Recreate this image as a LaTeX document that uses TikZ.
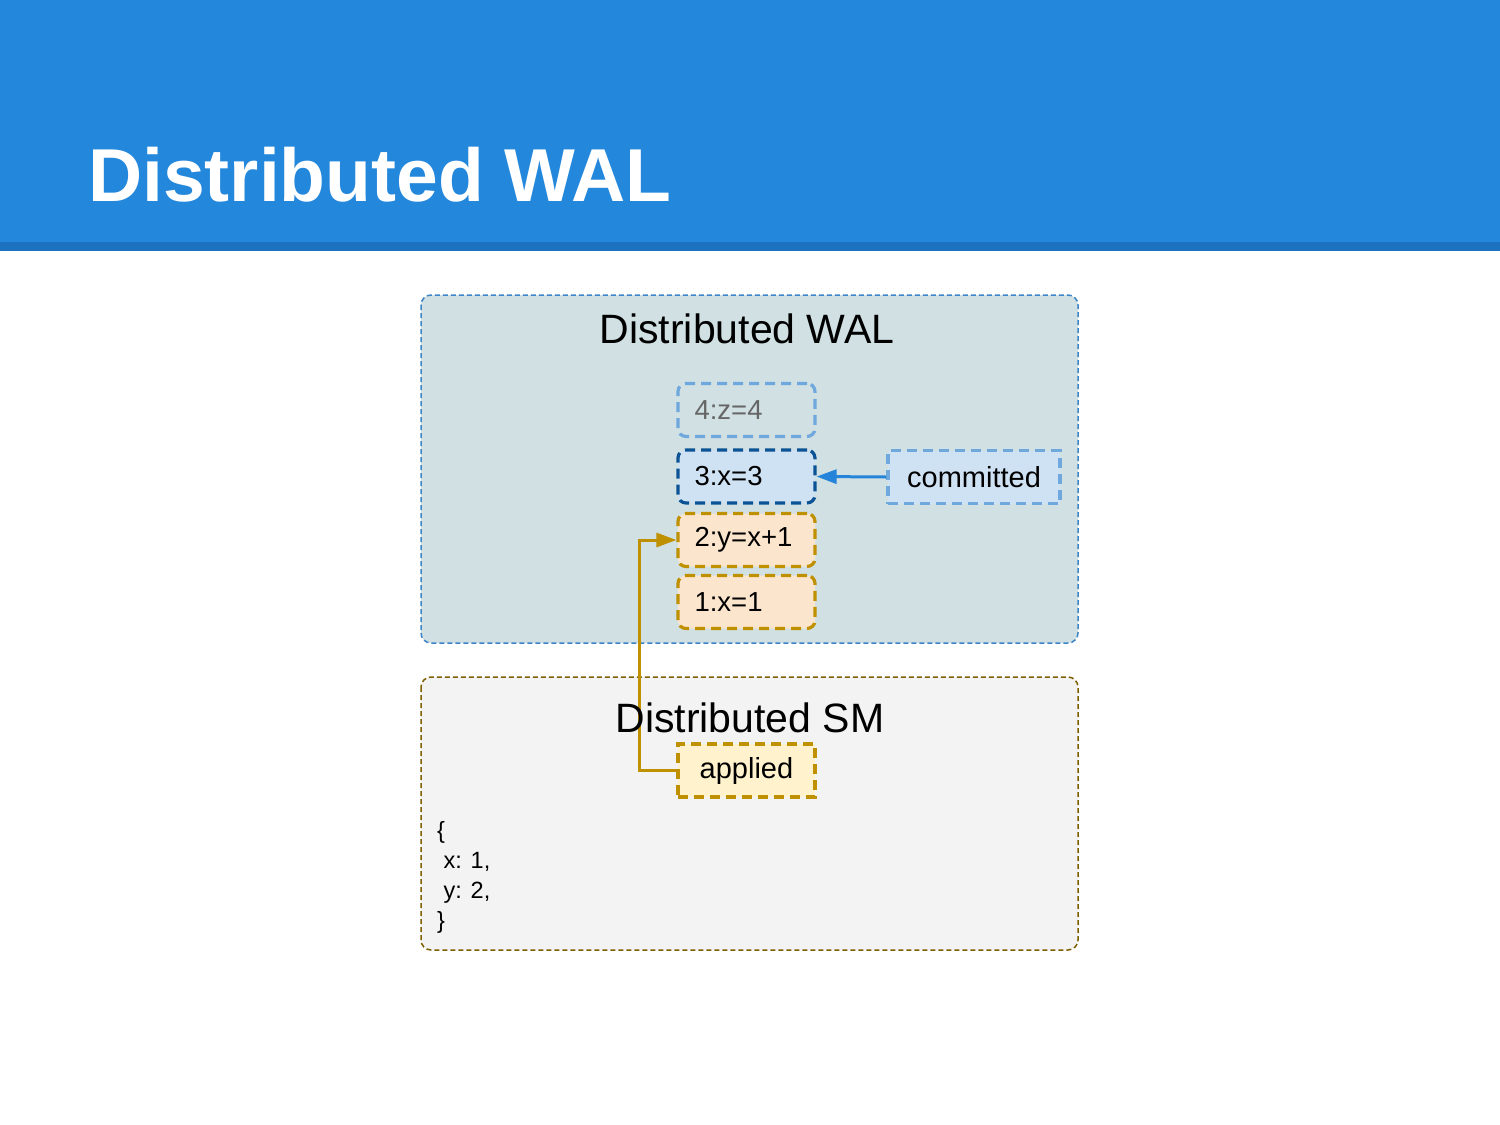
\documentclass[tikz,border=0pt]{standalone}
\usepackage{fontspec}
\setmainfont{Liberation Sans}
\usetikzlibrary{arrows.meta}
\definecolor{banner}{HTML}{2387DB}
\definecolor{bannerdark}{HTML}{1D72BF}
\definecolor{walfill}{HTML}{D0E0E3}
\definecolor{waldraw}{HTML}{3D85C6}
\definecolor{smfill}{HTML}{F3F3F3}
\definecolor{smdraw}{HTML}{7F6000}
\definecolor{lightblue}{HTML}{6FA8DC}
\definecolor{paleblue}{HTML}{CFE2F3}
\definecolor{darkblue}{HTML}{0B5394}
\definecolor{gold}{HTML}{BF9000}
\definecolor{peach}{HTML}{FCE5CD}
\definecolor{cream}{HTML}{FFF2CC}
\definecolor{arrowblue}{HTML}{2484DA}
\definecolor{grey}{HTML}{666666}
\begin{document}
\begin{tikzpicture}[x=1pt,y=-1pt,
  container/.style={line width=1.5pt, rounded corners=10pt, dash pattern=on 5pt off 3pt},
  entry/.style={draw, line width=3.2pt, rounded corners=8pt, dash pattern=on 10pt off 6pt,
    minimum width=137pt, minimum height=53pt, inner sep=0pt, font=\fontsize{27.5}{32}\selectfont,
    text width=104pt, align=left},
  tag/.style={draw, line width=3.2pt, dash pattern=on 10pt off 6pt, inner sep=0pt,
    minimum height=53pt, font=\fontsize{29}{34}\selectfont, align=center},
  code/.style={anchor=base west, inner sep=0pt, font=\fontsize{23.5}{28}\selectfont}]
\useasboundingbox (0,0) rectangle (1500,1125);
\fill[white] (0,0) rectangle (1500,1125);
\fill[banner] (0,0) rectangle (1500,242);
\fill[bannerdark] (0,242) rectangle (1500,251);
\node[anchor=base west, inner sep=0pt, text=white, font=\fontsize{75}{80}\selectfont\bfseries] (title) at (88,201) {Distributed WAL};

\draw[container, draw=waldraw, fill=walfill] (421,295) rectangle (1078,643);
\draw[container, draw=smdraw, fill=smfill] (421,677) rectangle (1078,950);

\node[anchor=base, inner sep=0pt, font=\fontsize{41}{46}\selectfont] (walt) at (747,343) {Distributed WAL};

\node[entry, draw=lightblue, text=grey] (e4) at (746.5,410) {4:z=4};
\node[entry, draw=darkblue, fill=paleblue] (e3) at (746.5,476.5) {3:x=3};
\node[entry, draw=gold, fill=peach] (e2) at (746.5,540) {2:y=x+1};
\node[entry, draw=gold, fill=peach] (e1) at (746.5,602) {1:x=1};

\node[tag, draw=lightblue, fill=paleblue, minimum width=172pt] (com) at (974,477) {committed};

\node[tag, draw=gold, fill=cream, minimum width=137pt] (app) at (746.5,770.5) {applied};

\draw[-{Triangle[length=20pt,width=14pt]}, arrowblue, line width=3pt] (com.west) -- (e3.east);
\draw[-{Triangle[length=20pt,width=14pt]}, gold, line width=3pt] (app.west) -| (639,540) -- (e2.west);

\node[anchor=base, inner sep=0pt, font=\fontsize{41}{46}\selectfont] (smt) at (750,732) {Distributed SM};

\node[code] (c1) at (437,838) {\{};
\node[code] (c2) at (437,868) {\ x: 1,};
\node[code] (c3) at (437,898) {\ y: 2,};
\node[code] (c4) at (437,928) {\}};
\end{tikzpicture}
\end{document}
